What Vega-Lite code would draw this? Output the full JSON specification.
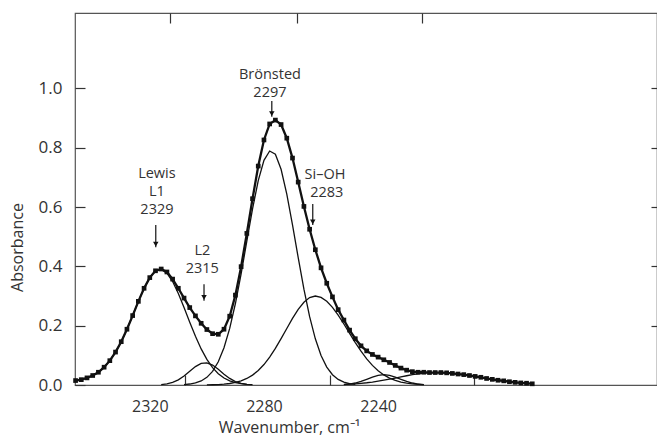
{
  "$schema": "https://vega.github.io/schema/vega-lite/v6.json",
  "width": 582,
  "height": 372,
  "autosize": {"type": "none"},
  "padding": {"left": 75, "top": 13, "right": 0, "bottom": 52},
  "background": "white",
  "config": {
    "view": {"stroke": "#555", "strokeWidth": 1.2},
    "font": "Open Sans",
    "axis": {"grid": false, "domain": false, "tickColor": "#333", "tickWidth": 1.2, "labelColor": "#333", "titleColor": "#333", "titleFontWeight": "normal", "labelFont": "Open Sans", "titleFont": "Open Sans"}
  },
  "datasets": {
    "total": [
      {"w":2346,"a":0.015},{"w":2344,"a":0.018},{"w":2342,"a":0.024},{"w":2340,"a":0.032},{"w":2338,"a":0.043},{"w":2336,"a":0.060},{"w":2334,"a":0.082},{"w":2332,"a":0.111},{"w":2330,"a":0.146},{"w":2328,"a":0.188},{"w":2326,"a":0.234},{"w":2324,"a":0.282},{"w":2322,"a":0.326},{"w":2320,"a":0.362},{"w":2318,"a":0.385},{"w":2316,"a":0.391},{"w":2314,"a":0.381},{"w":2312,"a":0.357},{"w":2310,"a":0.326},{"w":2308,"a":0.293},{"w":2306,"a":0.261},{"w":2304,"a":0.233},{"w":2302,"a":0.208},{"w":2300,"a":0.187},{"w":2298,"a":0.173},{"w":2296,"a":0.171},{"w":2294,"a":0.188},{"w":2292,"a":0.232},{"w":2290,"a":0.303},{"w":2288,"a":0.399},{"w":2286,"a":0.511},{"w":2284,"a":0.628},{"w":2282,"a":0.738},{"w":2280,"a":0.826},{"w":2278,"a":0.880},{"w":2276,"a":0.893},{"w":2274,"a":0.878},{"w":2272,"a":0.832},{"w":2270,"a":0.765},{"w":2268,"a":0.684},{"w":2266,"a":0.602},{"w":2264,"a":0.525},{"w":2262,"a":0.456},{"w":2260,"a":0.395},{"w":2258,"a":0.343},{"w":2256,"a":0.297},{"w":2254,"a":0.254},{"w":2252,"a":0.219},{"w":2250,"a":0.185},{"w":2248,"a":0.156},{"w":2246,"a":0.132},{"w":2244,"a":0.115},{"w":2242,"a":0.103},{"w":2240,"a":0.094},{"w":2238,"a":0.085},{"w":2236,"a":0.076},{"w":2234,"a":0.066},{"w":2232,"a":0.057},{"w":2230,"a":0.050},{"w":2228,"a":0.045},{"w":2226,"a":0.043},{"w":2224,"a":0.043},{"w":2222,"a":0.042},{"w":2220,"a":0.042},{"w":2218,"a":0.042},{"w":2216,"a":0.041},{"w":2214,"a":0.039},{"w":2212,"a":0.037},{"w":2210,"a":0.035},{"w":2208,"a":0.032},{"w":2206,"a":0.029},{"w":2204,"a":0.026},{"w":2202,"a":0.022},{"w":2200,"a":0.019},{"w":2198,"a":0.016},{"w":2196,"a":0.014},{"w":2194,"a":0.011},{"w":2192,"a":0.009},{"w":2190,"a":0.007},{"w":2188,"a":0.006},{"w":2186,"a":0.004}
    ],
    "comp": [
      {"s":"L1","w":2346,"a":0.0146},{"s":"L1","w":2344,"a":0.0183},{"s":"L1","w":2342,"a":0.0237},{"s":"L1","w":2340,"a":0.0317},{"s":"L1","w":2338,"a":0.0434},{"s":"L1","w":2336,"a":0.0597},{"s":"L1","w":2334,"a":0.0819},{"s":"L1","w":2332,"a":0.1107},{"s":"L1","w":2330,"a":0.146},{"s":"L1","w":2328,"a":0.188},{"s":"L1","w":2326,"a":0.234},{"s":"L1","w":2324,"a":0.2815},{"s":"L1","w":2322,"a":0.3259},{"s":"L1","w":2320,"a":0.3621},{"s":"L1","w":2318,"a":0.3846},{"s":"L1","w":2316,"a":0.3895},{"s":"L1","w":2314,"a":0.3767},{"s":"L1","w":2312,"a":0.3486},{"s":"L1","w":2310,"a":0.3086},{"s":"L1","w":2308,"a":0.2613},{"s":"L1","w":2306,"a":0.2117},{"s":"L1","w":2304,"a":0.1641},{"s":"L1","w":2302,"a":0.1217},{"s":"L1","w":2300,"a":0.0863},{"s":"L1","w":2298,"a":0.0586},{"s":"L1","w":2296,"a":0.038},{"s":"L1","w":2294,"a":0.0236},{"s":"L1","w":2292,"a":0.014},{"s":"L1","w":2290,"a":0.008},{"s":"L1","w":2288,"a":0.0043},{"s":"L1","w":2286,"a":0.0023},{"s":"L1","w":2284,"a":0.0011},
      {"s":"L2","w":2316,"a":0.0015},{"s":"L2","w":2314,"a":0.0039},{"s":"L2","w":2312,"a":0.0088},{"s":"L2","w":2310,"a":0.0174},{"s":"L2","w":2308,"a":0.0303},{"s":"L2","w":2306,"a":0.0463},{"s":"L2","w":2304,"a":0.062},{"s":"L2","w":2302,"a":0.0726},{"s":"L2","w":2300,"a":0.0746},{"s":"L2","w":2298,"a":0.0671},{"s":"L2","w":2296,"a":0.0529},{"s":"L2","w":2294,"a":0.0365},{"s":"L2","w":2292,"a":0.0221},{"s":"L2","w":2290,"a":0.0117},{"s":"L2","w":2288,"a":0.0054},{"s":"L2","w":2286,"a":0.0022},
      {"s":"B","w":2308,"a":0.0015},{"s":"B","w":2306,"a":0.0033},{"s":"B","w":2304,"a":0.0068},{"s":"B","w":2302,"a":0.0137},{"s":"B","w":2300,"a":0.0258},{"s":"B","w":2298,"a":0.0461},{"s":"B","w":2296,"a":0.0781},{"s":"B","w":2294,"a":0.1254},{"s":"B","w":2292,"a":0.1907},{"s":"B","w":2290,"a":0.2747},{"s":"B","w":2288,"a":0.3749},{"s":"B","w":2286,"a":0.4847},{"s":"B","w":2284,"a":0.5938},{"s":"B","w":2282,"a":0.6889},{"s":"B","w":2280,"a":0.7573},{"s":"B","w":2278,"a":0.7887},{"s":"B","w":2276,"a":0.7781},{"s":"B","w":2274,"a":0.7272},{"s":"B","w":2272,"a":0.6438},{"s":"B","w":2270,"a":0.5401},{"s":"B","w":2268,"a":0.4292},{"s":"B","w":2266,"a":0.3231},{"s":"B","w":2264,"a":0.2304},{"s":"B","w":2262,"a":0.1557},{"s":"B","w":2260,"a":0.0996},{"s":"B","w":2258,"a":0.0604},{"s":"B","w":2256,"a":0.0347},{"s":"B","w":2254,"a":0.0189},{"s":"B","w":2252,"a":0.0097},{"s":"B","w":2250,"a":0.0048},{"s":"B","w":2248,"a":0.0022},
      {"s":"S","w":2300,"a":0.0004},{"s":"S","w":2298,"a":0.0008},{"s":"S","w":2296,"a":0.0016},{"s":"S","w":2294,"a":0.0029},{"s":"S","w":2292,"a":0.0051},{"s":"S","w":2290,"a":0.0086},{"s":"S","w":2288,"a":0.014},{"s":"S","w":2286,"a":0.022},{"s":"S","w":2284,"a":0.0334},{"s":"S","w":2282,"a":0.0489},{"s":"S","w":2280,"a":0.069},{"s":"S","w":2278,"a":0.094},{"s":"S","w":2276,"a":0.1233},{"s":"S","w":2274,"a":0.1561},{"s":"S","w":2272,"a":0.1906},{"s":"S","w":2270,"a":0.2244},{"s":"S","w":2268,"a":0.2548},{"s":"S","w":2266,"a":0.279},{"s":"S","w":2264,"a":0.2946},{"s":"S","w":2262,"a":0.3},{"s":"S","w":2260,"a":0.2955},{"s":"S","w":2258,"a":0.2824},{"s":"S","w":2256,"a":0.2618},{"s":"S","w":2254,"a":0.2355},{"s":"S","w":2252,"a":0.2056},{"s":"S","w":2250,"a":0.1741},{"s":"S","w":2248,"a":0.143},{"s":"S","w":2246,"a":0.114},{"s":"S","w":2244,"a":0.0881},{"s":"S","w":2242,"a":0.0661},{"s":"S","w":2240,"a":0.0481},{"s":"S","w":2238,"a":0.034},{"s":"S","w":2236,"a":0.0233},{"s":"S","w":2234,"a":0.0155},{"s":"S","w":2232,"a":0.01},{"s":"S","w":2230,"a":0.0062},{"s":"S","w":2228,"a":0.0038},{"s":"S","w":2226,"a":0.0022},{"s":"S","w":2224,"a":0.0013},
      {"s":"P5","w":2252,"a":0.0013},{"s":"P5","w":2250,"a":0.0033},{"s":"P5","w":2248,"a":0.0067},{"s":"P5","w":2246,"a":0.0122},{"s":"P5","w":2244,"a":0.0193},{"s":"P5","w":2242,"a":0.0268},{"s":"P5","w":2240,"a":0.0328},{"s":"P5","w":2238,"a":0.035},{"s":"P5","w":2236,"a":0.0328},{"s":"P5","w":2234,"a":0.0268},{"s":"P5","w":2232,"a":0.0193},{"s":"P5","w":2230,"a":0.0122},{"s":"P5","w":2228,"a":0.0067},{"s":"P5","w":2226,"a":0.0033},{"s":"P5","w":2224,"a":0.0013},
      {"s":"P6","w":2252,"a":0.002},{"s":"P6","w":2250,"a":0.0029},{"s":"P6","w":2248,"a":0.0041},{"s":"P6","w":2246,"a":0.0057},{"s":"P6","w":2244,"a":0.0076},{"s":"P6","w":2242,"a":0.01},{"s":"P6","w":2240,"a":0.0129},{"s":"P6","w":2238,"a":0.0161},{"s":"P6","w":2236,"a":0.0197},{"s":"P6","w":2234,"a":0.0235},{"s":"P6","w":2232,"a":0.0274},{"s":"P6","w":2230,"a":0.0312},{"s":"P6","w":2228,"a":0.0348},{"s":"P6","w":2226,"a":0.0378},{"s":"P6","w":2224,"a":0.0401},{"s":"P6","w":2222,"a":0.0415},{"s":"P6","w":2220,"a":0.042},{"s":"P6","w":2218,"a":0.0417},{"s":"P6","w":2216,"a":0.0407},{"s":"P6","w":2214,"a":0.0391},{"s":"P6","w":2212,"a":0.0371},{"s":"P6","w":2210,"a":0.0345},{"s":"P6","w":2208,"a":0.0317},{"s":"P6","w":2206,"a":0.0286},{"s":"P6","w":2204,"a":0.0255},{"s":"P6","w":2202,"a":0.0223},{"s":"P6","w":2200,"a":0.0192},{"s":"P6","w":2198,"a":0.0163},{"s":"P6","w":2196,"a":0.0136},{"s":"P6","w":2194,"a":0.0112},{"s":"P6","w":2192,"a":0.0091},{"s":"P6","w":2190,"a":0.0072},{"s":"P6","w":2188,"a":0.0057},{"s":"P6","w":2186,"a":0.0044}
    ],
    "labels": [
      {"w":2317.5,"a":0.711,"t":"Lewis"},
      {"w":2317.5,"a":0.652,"t":"L1"},
      {"w":2317.5,"a":0.590,"t":"2329"},
      {"w":2301.6,"a":0.451,"t":"L2"},
      {"w":2301.6,"a":0.391,"t":"2315"},
      {"w":2277.9,"a":1.045,"t":"Brönsted"},
      {"w":2277.9,"a":0.985,"t":"2297"},
      {"w":2258.6,"a":0.708,"t":"Si–OH"},
      {"w":2258.0,"a":0.648,"t":"2283"}
    ],
    "arrows": [
      {"w":2317.9,"a1":0.539,"a2":0.464,"ah":0.475},
      {"w":2301.0,"a1":0.340,"a2":0.284,"ah":0.295},
      {"w":2277.25,"a1":0.957,"a2":0.904,"ah":0.915},
      {"w":2262.9,"a1":0.610,"a2":0.539,"ah":0.550}
    ]
  },
  "layer": [
    {
      "data": {"name": "comp"},
      "mark": {"type": "line", "stroke": "#111", "strokeWidth": 1.3},
      "encoding": {
        "x": {"field": "w", "type": "quantitative", "scale": {"domain": [2142.3, 2346.2], "reverse": true, "nice": false, "zero": false},
          "axis": {"orient": "bottom", "values": [2320, 2280, 2240], "format": "d", "ticks": false, "labelPadding": 13, "labelFontSize": 16, "labelFlush": false,
            "title": "Wavenumber, cm⁻¹", "titleFontSize": 16, "titleX": 214, "titleY": 47, "titleAlign": "center", "titleBaseline": "alphabetic"}},
        "y": {"field": "a", "type": "quantitative", "scale": {"domain": [0, 1.254], "nice": false, "zero": false},
          "axis": {"orient": "left", "values": [0, 0.2, 0.4, 0.6, 0.8, 1.0], "format": ".1f", "tickSize": -10, "labelPadding": 23, "labelFontSize": 17,
            "title": "Absorbance", "titleFontSize": 16, "titleX": -58, "titleY": 234, "titleAngle": -90, "titleAlign": "center", "titleBaseline": "middle"}},
        "detail": {"field": "s"}
      }
    },
    {
      "data": {"name": "total"},
      "mark": {"type": "line", "stroke": "#111", "strokeWidth": 2.3},
      "encoding": {
        "x": {"field": "w", "type": "quantitative", "scale": {"domain": [2142.3, 2346.2], "reverse": true, "nice": false, "zero": false},
          "axis": {"orient": "bottom", "values": [2307.6, 2256.8, 2206.4], "labels": false, "tickSize": -10, "title": null}},
        "y": {"field": "a", "type": "quantitative", "scale": {"domain": [0, 1.254], "nice": false, "zero": false},
          "axis": {"orient": "right", "values": [0.2, 0.4, 0.6, 0.8, 1.0], "labels": false, "tickSize": -6, "title": null}}
      }
    },
    {
      "data": {"name": "total"},
      "mark": {"type": "point", "shape": "square", "filled": true, "size": 22, "color": "#111", "opacity": 1},
      "encoding": {
        "x": {"field": "w", "type": "quantitative", "scale": {"domain": [2142.3, 2346.2], "reverse": true, "nice": false, "zero": false},
          "axis": {"orient": "top", "values": [2312.9, 2268.4, 2224.6], "labels": false, "tickSize": -10, "title": null}},
        "y": {"field": "a", "type": "quantitative", "scale": {"domain": [0, 1.254], "nice": false, "zero": false}, "axis": null}
      }
    },
    {
      "data": {"name": "labels"},
      "mark": {"type": "text", "font": "Open Sans", "fontSize": 14.5, "color": "#333", "align": "center", "baseline": "middle"},
      "encoding": {
        "x": {"field": "w", "type": "quantitative", "axis": null},
        "y": {"field": "a", "type": "quantitative", "axis": null},
        "text": {"field": "t"}
      }
    },
    {
      "data": {"name": "arrows"},
      "mark": {"type": "rule", "stroke": "#111", "strokeWidth": 1.2},
      "encoding": {
        "x": {"field": "w", "type": "quantitative", "axis": null},
        "y": {"field": "a1", "type": "quantitative", "axis": null},
        "y2": {"field": "a2"}
      }
    },
    {
      "data": {"name": "arrows"},
      "mark": {"type": "point", "shape": "triangle-down", "filled": true, "size": 30, "color": "#111", "opacity": 1},
      "encoding": {
        "x": {"field": "w", "type": "quantitative", "axis": null},
        "y": {"field": "ah", "type": "quantitative", "axis": null}
      }
    }
  ],
  "resolve": {"axis": {"x": "independent", "y": "independent"}}
}
